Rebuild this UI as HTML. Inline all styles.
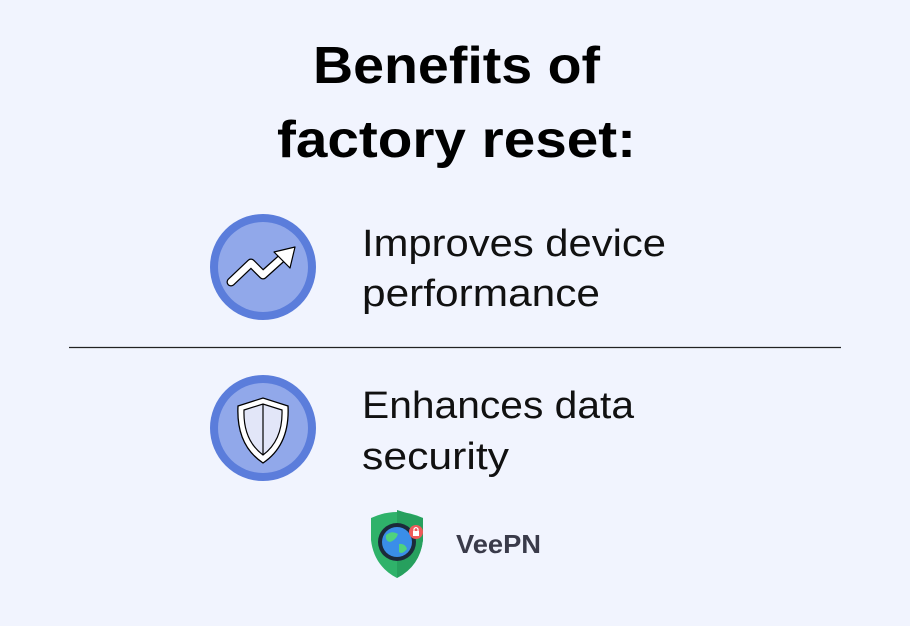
<!DOCTYPE html>
<html><head><style>
html,body{margin:0;padding:0;background:#f1f4fe;}
svg{display:block}
</style></head><body>
<svg width="910" height="626" viewBox="0 0 910 626" xmlns="http://www.w3.org/2000/svg">
<rect width="910" height="626" fill="#f1f4fe"/>
<g font-family="Liberation Sans, sans-serif" fill="#000">
<text x="313" y="83" font-size="52" font-weight="bold" textLength="287" lengthAdjust="spacingAndGlyphs">Benefits of</text>
<text x="277" y="157" font-size="52" font-weight="bold" textLength="359" lengthAdjust="spacingAndGlyphs">factory reset:</text>
<text x="362" y="256" font-size="38" textLength="304" lengthAdjust="spacingAndGlyphs" fill="#111">Improves device</text>
<text x="362" y="306" font-size="38" textLength="238" lengthAdjust="spacingAndGlyphs" fill="#111">performance</text>
<text x="362" y="418" font-size="38" textLength="272" lengthAdjust="spacingAndGlyphs" fill="#111">Enhances data</text>
<text x="362" y="469" font-size="38" textLength="147" lengthAdjust="spacingAndGlyphs" fill="#111">security</text>
<text x="456" y="553" font-size="26" font-weight="bold" fill="#3a3b4a" textLength="85" lengthAdjust="spacingAndGlyphs">VeePN</text>
</g>
<line x1="69" y1="347.5" x2="841" y2="347.5" stroke="#222" stroke-width="1.2"/>
<!-- circle 1 -->
<circle cx="263" cy="267" r="53" fill="#5b7ddb"/>
<circle cx="263" cy="267" r="45" fill="#91a8ea"/>
<path d="M231 282 L251 263 L263 275 L283 257" fill="none" stroke="#000" stroke-width="9" stroke-linecap="round" stroke-linejoin="round"/>
<path d="M231 282 L251 263 L263 275 L283 257" fill="none" stroke="#fff" stroke-width="6.5" stroke-linecap="round" stroke-linejoin="round"/>
<path d="M274 252 L295 247 L290 268 Z" fill="#fff" stroke="#000" stroke-width="1.2" stroke-linejoin="round"/>
<!-- circle 2 -->
<circle cx="263" cy="428" r="53" fill="#5b7ddb"/>
<circle cx="263" cy="428" r="45" fill="#91a8ea"/>
<path d="M238 406 L263 398 L288 406 Q290 445 263 463 Q236 445 238 406 Z" fill="#fff" stroke="#000" stroke-width="1.3"/>
<path d="M244 410 L263 404 L282 410 Q283 440 263 455 Q243 440 244 410 Z" fill="#e2e6f8" stroke="#000" stroke-width="1.2"/>
<line x1="263" y1="404" x2="263" y2="455" stroke="#000" stroke-width="1.2"/>
<!-- logo -->
<path d="M371 518 Q397 506 423 518 L423 540 Q420 566 397 578 Q374 566 371 540 Z" fill="#2fb26a"/>
<path d="M397 510 L423 518 L423 540 Q420 566 397 578 Z" fill="#27a05e"/>
<circle cx="397" cy="542" r="19" fill="#1c2a3a"/>
<circle cx="397" cy="542" r="15" fill="#3a8ee8"/>
<path d="M386 535 Q392 530 398 534 Q396 540 390 542 Q385 541 386 535 Z M399 544 Q405 543 407 549 Q402 555 399 552 Z" fill="#4fd37e"/>
<circle cx="416" cy="532" r="7" fill="#ef5a5a"/>
<rect x="413" y="531" width="6" height="5" fill="#fff"/>
<path d="M414 531 V529 Q416 526 418 529 V531" fill="none" stroke="#fff" stroke-width="1.2"/>
</svg>
</body></html>
